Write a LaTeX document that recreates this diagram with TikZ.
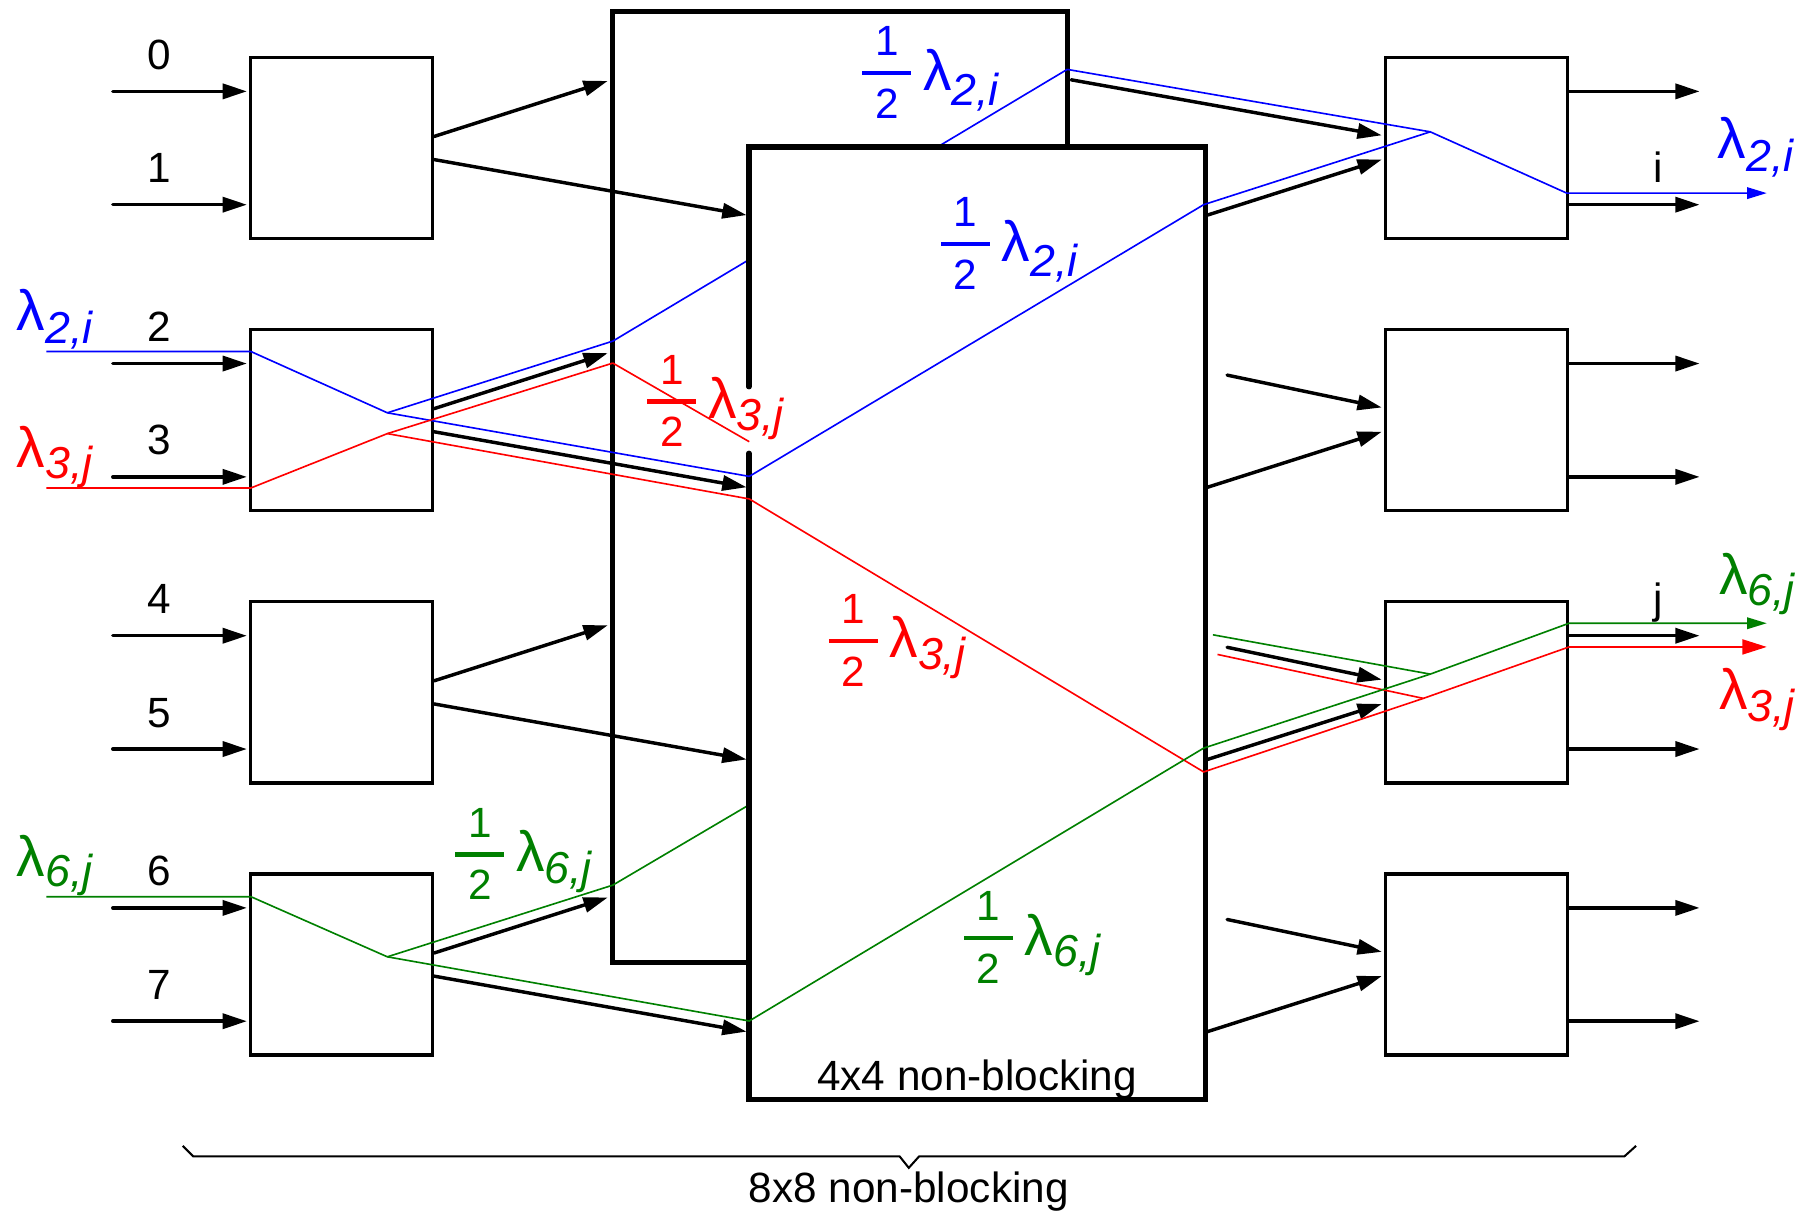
\documentclass[tikz,border=0pt]{standalone}
\usepackage{fontspec}
\setmainfont{Liberation Sans}
\usepackage{amsmath}
\usetikzlibrary{arrows.meta}

% one half, with a heavy bar, sitting a little above the baseline
\newcommand{\half}{\raisebox{0.06cm}{$\genfrac{}{}{1.1pt}{0}{\hbox to 12pt{\hss 1\hss}}{\hbox to 12pt{\hss 2\hss}}$}}
% lambda with a dropped italic index, the drop is the optional argument
\newcommand{\lam}[2][0.1cm]{{\fontsize{14}{14}\selectfont λ}\raisebox{-#1}{\fontsize{11}{11}\selectfont\itshape #2}}

\tikzset{
  switch/.style = {draw, line width = 0.8pt, minimum width = 1.57cm, minimum height = 1.565cm, inner sep = 0pt},
  stage/.style = {minimum width = 3.93cm, minimum height = 8.22cm, inner sep = 0pt},
  bigline/.style = {line width = 1.3pt},
  link/.style = {line width = 0.85pt, line cap = round, -{Triangle[length = 2.1mm, width = 1.3mm]}},
  lamline/.style = {line width = 0.4pt},
  lbl/.style = {inner sep = 0pt, font = \fontsize{10.4}{12}\selectfont},
}

\begin{document}
\begin{tikzpicture}[x = 0.01cm, y = -0.01cm]
\useasboundingbox (0,0) rectangle (1568,1050);

% first and last column of 2x2 switches
\foreach \k in {0,...,3} {
  \node [switch] (in\k) at (295.5, 128 + 235.4*\k) {};
  \node [switch] (out\k) at (1277, 128 + 235.4*\k) {};
}

% inputs 0..7 and outputs
\foreach \n in {0,...,7} {
  \pgfmathtruncatemacro\k{\n/2}
  \pgfmathsetmacro\dy{98*mod(\n,2) - 49}
  \coordinate (src\n) at ([shift={(-118,\dy)}]in\k.west);
  \draw [link] (src\n) -- ([xshift = -0.02cm]src\n -| in\k.west);
  \node [lbl, anchor = base] (num\n) at ([shift={(40,-19)}]src\n) {\n};
  \coordinate (dst\n) at ([shift={(113,\dy)}]out\k.east);
  \draw [link] (dst\n -| out\k.east) -- (dst\n);
}
\node [lbl, anchor = base] (outI) at ([shift={(-36,-19)}]dst1) {i};
\node [lbl, anchor = base] (outJ) at ([shift={(-36,-19)}]dst4) {j};

% the two 4x4 middle stages, A sits behind B
\node [stage, draw, bigline] (A) at (726.5,421) {};

% routes of the three wavelengths
\coordinate (b0) at (40,304);
\coordinate (b1) at (217,304);
\coordinate (b2) at (335,357);
\coordinate (b3) at (530,295);
\coordinate (b4) at (923,60);
\coordinate (b5) at (648,412);
\coordinate (b6) at (1041,177);
\coordinate (b7) at (1237,114);
\coordinate (b8) at (1355,167);
\coordinate (b9) at (1528,167);

\coordinate (r0) at (40,422);
\coordinate (r1) at (217,422);
\coordinate (r2) at (335,375);
\coordinate (r3) at (530,314);
\coordinate (r4) at (648,382);
\coordinate (r5) at (648,431.5);
\coordinate (r6) at (1041,667.6);
\coordinate (r7) at (1231,604);
\coordinate (r8) at (1357,559.5);
\coordinate (r9) at (1528,559.5);
\coordinate (r10) at (1053,566);

\coordinate (g0) at (40,775.5);
\coordinate (g1) at (217,775.5);
\coordinate (g2) at (335,827.5);
\coordinate (g3) at (530,765.5);
\coordinate (g4) at (648,696);
\coordinate (g5) at (648,883);
\coordinate (g6) at (1041,647);
\coordinate (g7) at (1237,583);
\coordinate (g8) at (1357,539);
\coordinate (g9) at (1528,539);
\coordinate (g10) at (1049,549);

% paths through A, partly hidden by B
\draw [lamline, blue] (b3) -- (b4);
\draw [lamline, red] (r3) -- (r4);
\draw [lamline, green!50!black] (g3) -- (g4);

\node [stage, fill = white] (B) at (845,539) {};
\path (B.west |- r4) ++(0,-47.5) coordinate (gapT) ++(0,57.5) coordinate (gapB);
\draw [bigline, line cap = round] (gapT) -- (B.north west) -- (B.north east) -- (B.south east) -- (B.south west) -- (gapB);

% links between the stages
\foreach \k in {0,...,3} {
  \draw [link] ([shift={(0,-10)}]in\k.east) -- ([shift={(-2,-58)}]in\k.east -| A.west);
  \draw [link] ([shift={(0,10)}]in\k.east) -- ([shift={(-2,58)}]in\k.east -| B.west);
  \draw [link] ([shift={(2,58)}]out\k.west -| B.east) -- ([shift={(-2,10)}]out\k.west);
}
\draw [link] ([shift={(1,-59)}]out0.west -| A.east) -- ([shift={(-2,-11)}]out0.west);
\foreach \k in {1,2,3}
  \draw [link] ([shift={(19,-39)}]out\k.west -| B.east) -- ([shift={(-2,-11)}]out\k.west);

% wavelengths
\draw [lamline, blue, -{Triangle[length = 1.7mm, width = 1mm]}] (b0) -- (b1) -- (b2) -- (b5) -- (b6) -- (b7) -- (b8) -- (b9);
\draw [lamline, blue] (b2) -- (b3);
\draw [lamline, blue] (b4) -- (b7);

\draw [lamline, red, -{Triangle[length = 2.1mm, width = 1.3mm]}] (r0) -- (r1) -- (r2) -- (r5) -- (r6) -- (r7) -- (r8) -- (r9);
\draw [lamline, red] (r2) -- (r3);
\draw [lamline, red] (r10) -- (r7);

\draw [lamline, green!50!black, -{Triangle[length = 1.7mm, width = 1mm]}] (g0) -- (g1) -- (g2) -- (g5) -- (g6) -- (g7) -- (g8) -- (g9);
\draw [lamline, green!50!black] (g2) -- (g3);
\draw [lamline, green!50!black] (g10) -- (g7);

% labels
\node [lbl, blue, anchor = base west] (lamBl) at (14,286) {\lam[0.11cm]{2,i}};
\node [lbl, red, anchor = base west] (lamRl) at (14,404) {\lam{3,j}};
\node [lbl, green!50!black, anchor = base west] (lamGl) at (14,758) {\lam[0.09cm]{6,j}};
\node [lbl, blue, anchor = base west] (lamBr) at (1485,137) {\lam[0.11cm]{2,i}};
\node [lbl, green!50!black, anchor = base west] (lamGr) at (1486,514) {\lam{6,j}};
\node [lbl, red, anchor = base west] (lamRr) at (1486,614) {\lam{3,j}};

\node [lbl, blue, anchor = base west] (halfB1) at (741,78) {\half\,\lam[0.13cm]{2,i}};
\node [lbl, blue, anchor = base west] (halfB2) at (809,226) {\half\,\lam[0.13cm]{2,i}};
\node [lbl, red, anchor = base west] (halfR1) at (555,362) {\half\,\lam{3,j}};
\node [lbl, red, anchor = base west] (halfR2) at (712,569) {\half\,\lam{3,j}};
\node [lbl, green!50!black, anchor = base west] (halfG1) at (389,754) {\half\,\lam{6,j}};
\node [lbl, green!50!black, anchor = base west] (halfG2) at (829,826) {\half\,\lam{6,j}};

\node [lbl, anchor = base] (lab4) at ([shift={(0,-8)}]B.south) {4x4 non-blocking};

% brace under the whole network
\draw [line width = 0.5pt] (158,991) -- (167,1000) -- (778,1000) -- (786,1010) -- (795,1000) -- (1405,1000) -- (1415,991);
\node [lbl, anchor = base] (lab8) at (786,1040) {8x8 non-blocking};
\end{tikzpicture}
\end{document}
